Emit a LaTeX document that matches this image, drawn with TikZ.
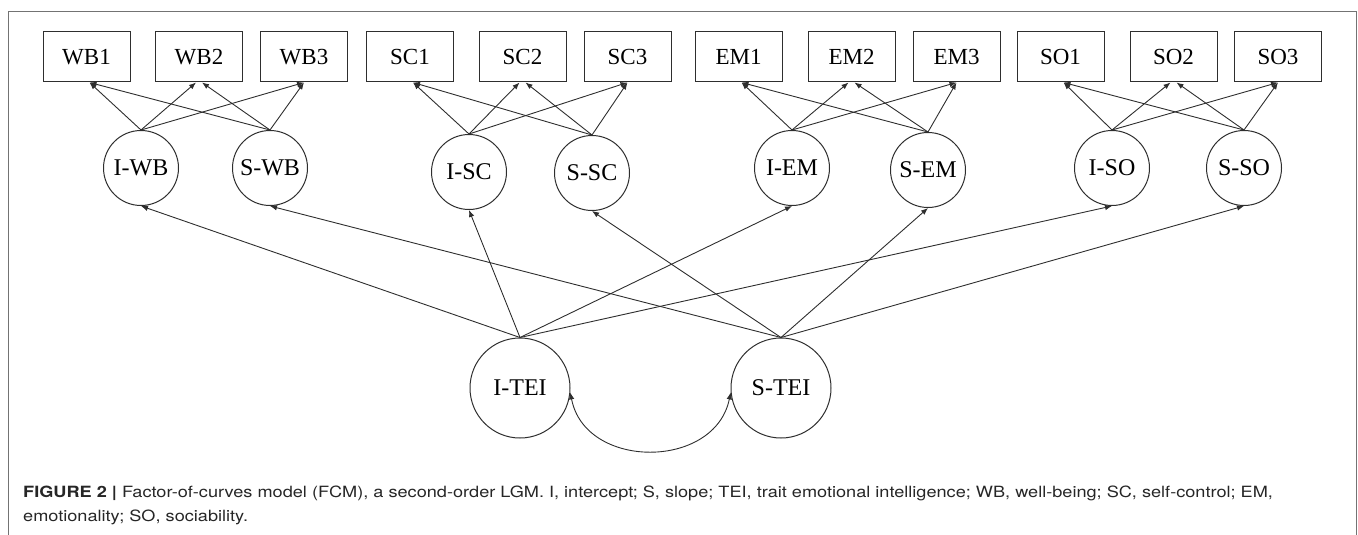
\documentclass[tikz,border=0pt]{standalone}
\usepackage{fontspec}
\setmainfont{Liberation Serif}
\newfontfamily\capfont{TeX Gyre Heros}
\usetikzlibrary{arrows.meta}
\definecolor{ln}{HTML}{2E2E2E}
\tikzset{
  obsbox/.style={draw=ln, line width=1pt, minimum width=87pt, minimum height=50pt, inner sep=0pt, font=\fontsize{23}{23}\selectfont},
  latsm/.style={circle, draw=ln, line width=1pt, minimum size=75pt, inner sep=0pt, font=\fontsize{24}{24}\selectfont},
  latbig/.style={circle, draw=ln, line width=1pt, minimum size=100pt, inner sep=0pt, font=\fontsize{24}{24}\selectfont},
  arr/.style={draw=ln, line width=0.9pt, -{Latex[length=7pt,width=5.5pt]}},
  capstyle/.style={anchor=base west, inner sep=0pt, text=black!85, font=\capfont\fontsize{15.5}{15.5}\selectfont}
}
\begin{document}
\begin{tikzpicture}[x=1pt,y=-1pt]
\useasboundingbox (0,0) rectangle (1358,535);
\draw[draw=black!55, line width=1pt] (8,535) -- (8,12) -- (1356,12) -- (1356,535);
% observed
\node[obsbox] (wb1) at (86.5,57) {WB1};
\node[obsbox] (wb2) at (199,57) {WB2};
\node[obsbox] (wb3) at (304,57) {WB3};
\node[obsbox] (sc1) at (410,57) {SC1};
\node[obsbox] (sc2) at (522.5,57) {SC2};
\node[obsbox] (sc3) at (627.5,57) {SC3};
\node[obsbox] (em1) at (738.5,57) {EM1};
\node[obsbox] (em2) at (851.5,57) {EM2};
\node[obsbox] (em3) at (956.5,57) {EM3};
\node[obsbox] (so1) at (1060.5,57) {SO1};
\node[obsbox] (so2) at (1173.5,57) {SO2};
\node[obsbox] (so3) at (1278,57) {SO3};
% first-order latents
\node[latsm] (iwb) at (141,168) {I-WB};
\node[latsm] (swb) at (270,168) {S-WB};
\node[latsm] (isc) at (469,172) {I-SC};
\node[latsm] (ssc) at (592,173) {S-SC};
\node[latsm] (iem) at (792,168) {I-EM};
\node[latsm] (sem) at (928,170) {S-EM};
\node[latsm] (iso) at (1112,168) {I-SO};
\node[latsm] (sso) at (1244,168) {S-SO};
% second-order latents
\node[latbig] (itei) at (520,388) {I-TEI};
\node[latbig] (stei) at (781,388) {S-TEI};
% loadings
\foreach \i/\s/\a/\b/\c in {iwb/swb/wb1/wb2/wb3, isc/ssc/sc1/sc2/sc3, iem/sem/em1/em2/em3, iso/sso/so1/so2/so3}{
  \draw[arr] (\i.north) -- ([xshift=3pt]\a.south);
  \draw[arr] (\i.north) -- ([xshift=-3pt]\b.south);
  \draw[arr] (\i.north) -- (\c.south);
  \draw[arr] (\s.north) -- ([xshift=3pt]\a.south);
  \draw[arr] (\s.north) -- ([xshift=3pt]\b.south);
  \draw[arr] (\s.north) -- (\c.south);
}
% second-order loadings
\foreach \t in {iwb, isc, iem, iso}{ \draw[arr] (itei.north) -- (\t.south); }
\foreach \t in {swb, ssc, sem, sso}{ \draw[arr] (stei.north) -- (\t.south); }
% covariance
\draw[draw=ln, line width=0.9pt, {Latex[length=7pt,width=5.5pt]}-{Latex[length=7pt,width=5.5pt]}]
  (itei.-5) .. controls (585,470) and (715,470) .. (stei.185);
% caption
\node[capstyle] (cap1) at (23,497) {\scalebox{1.17}[1]{\textbf{FIGURE 2 |} Factor-of-curves model (FCM), a second-order LGM. I, intercept; S, slope; TEI, trait emotional intelligence; WB, well-being; SC, self-control; EM,}};
\node[capstyle] (cap2) at (23,521) {\scalebox{1.17}[1]{emotionality; SO, sociability.}};
\end{tikzpicture}
\end{document}
